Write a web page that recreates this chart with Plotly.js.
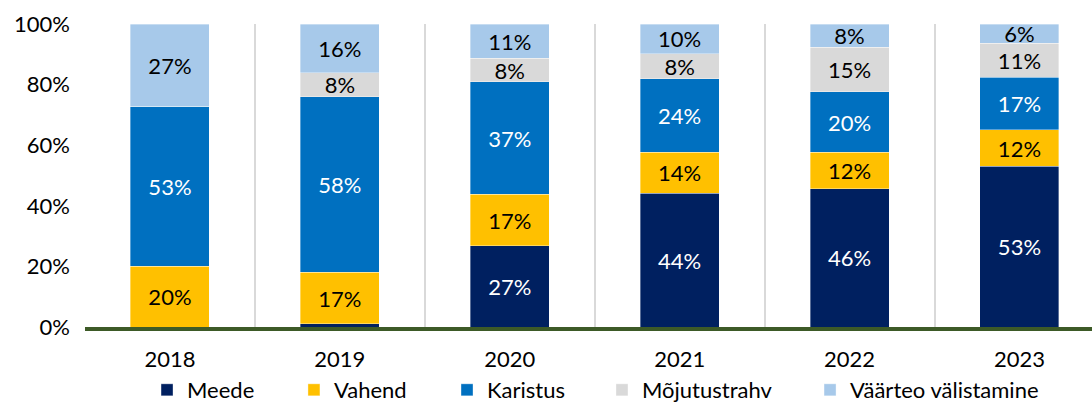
<!DOCTYPE html>
<html>
<head>
<meta charset="utf-8">
<script src="https://cdn.plot.ly/plotly-3.0.1.min.js"></script>
<style>html,body{margin:0;padding:0;background:#fff;}#chart{width:1092px;height:403px;}</style>
</head>
<body>
<div id="chart"></div>
<script>
var years = ['2018', '2019', '2020', '2021', '2022', '2023'];
var meede = [0, 1.0, 26.8, 44.1, 45.7, 53.0];
var vahend = [20.1, 17.1, 17.0, 13.6, 11.9, 12.1];
var karistus = [52.7, 57.9, 37.1, 24.3, 20.0, 17.4];
var mojutustrahv = [0, 7.9, 7.8, 8.2, 14.8, 11.2];
var vaarteo = [27.2, 16.1, 11.3, 9.8, 7.6, 6.3];

var seriesNames = ['Meede', 'Vahend', 'Karistus', 'Mõjutustrahv', 'Väärteo välistamine'];
var seriesData = [meede, vahend, karistus, mojutustrahv, vaarteo];
var colors = ['#002060', '#FFC000', '#0070C0', '#D9D9D9', '#A7C9EA'];
var textColors = ['#FFFFFF', '#000000', '#FFFFFF', '#000000', '#000000'];
var legendIds = ['legend', 'legend2', 'legend3', 'legend4', 'legend5'];
var legendX = [0.0616, 0.2075, 0.3595, 0.5134, 0.7200];
var FONT = 'Lato, "Open Sans", sans-serif';
var FS = 22;

var traces = seriesData.map(function (vals, i) {
  return {
    type: 'bar',
    name: seriesNames[i],
    legend: legendIds[i],
    x: years,
    y: vals,
    marker: { color: colors[i], line: { color: 'rgba(255,255,255,0.6)', width: 0.6 } },
    text: vals.map(function (v) { return v >= 3 ? Math.round(v) + '%' : ''; }),
    textposition: 'inside',
    insidetextanchor: 'middle',
    constraintext: 'none',
    textfont: { family: FONT, size: FS, color: textColors[i] },
    hoverinfo: 'skip'
  };
});

var layout = {
  width: 1092,
  height: 403,
  barmode: 'stack',
  bargap: 0.535,
  margin: { l: 85, r: 0, t: 24, b: 76, autoexpand: false },
  paper_bgcolor: '#FFFFFF',
  plot_bgcolor: '#FFFFFF',
  font: { family: FONT, size: FS, color: '#000000' },
  xaxis: {
    type: 'category',
    range: [-0.5, 5.427],
    tickson: 'boundaries',
    showgrid: true,
    gridcolor: '#D9D9D9',
    gridwidth: 2,
    ticks: '',
    showline: true,
    linecolor: '#3D5A27',
    linewidth: 4,
    tickfont: { family: FONT, size: FS, color: '#000000' },
    ticklabelstandoff: 10,
    fixedrange: true
  },
  yaxis: {
    range: [0, 100],
    tickvals: [0, 20, 40, 60, 80, 100],
    ticktext: ['0%', '20%', '40%', '60%', '80%', '100%'],
    showgrid: false,
    zeroline: false,
    showline: false,
    ticks: '',
    ticklabelstandoff: 14,
    tickfont: { family: FONT, size: FS, color: '#000000' },
    fixedrange: true
  },
  showlegend: true
};

legendIds.forEach(function (id, i) {
  layout[id] = {
    orientation: 'h',
    x: legendX[i],
    xanchor: 'left',
    y: -0.208,
    yanchor: 'middle',
    bgcolor: 'rgba(0,0,0,0)',
    borderwidth: 0,
    font: { family: FONT, size: FS, color: '#000000' },
    itemwidth: 30
  };
});

Plotly.newPlot('chart', traces, layout, { displayModeBar: false, staticPlot: true });
</script>
</body>
</html>
